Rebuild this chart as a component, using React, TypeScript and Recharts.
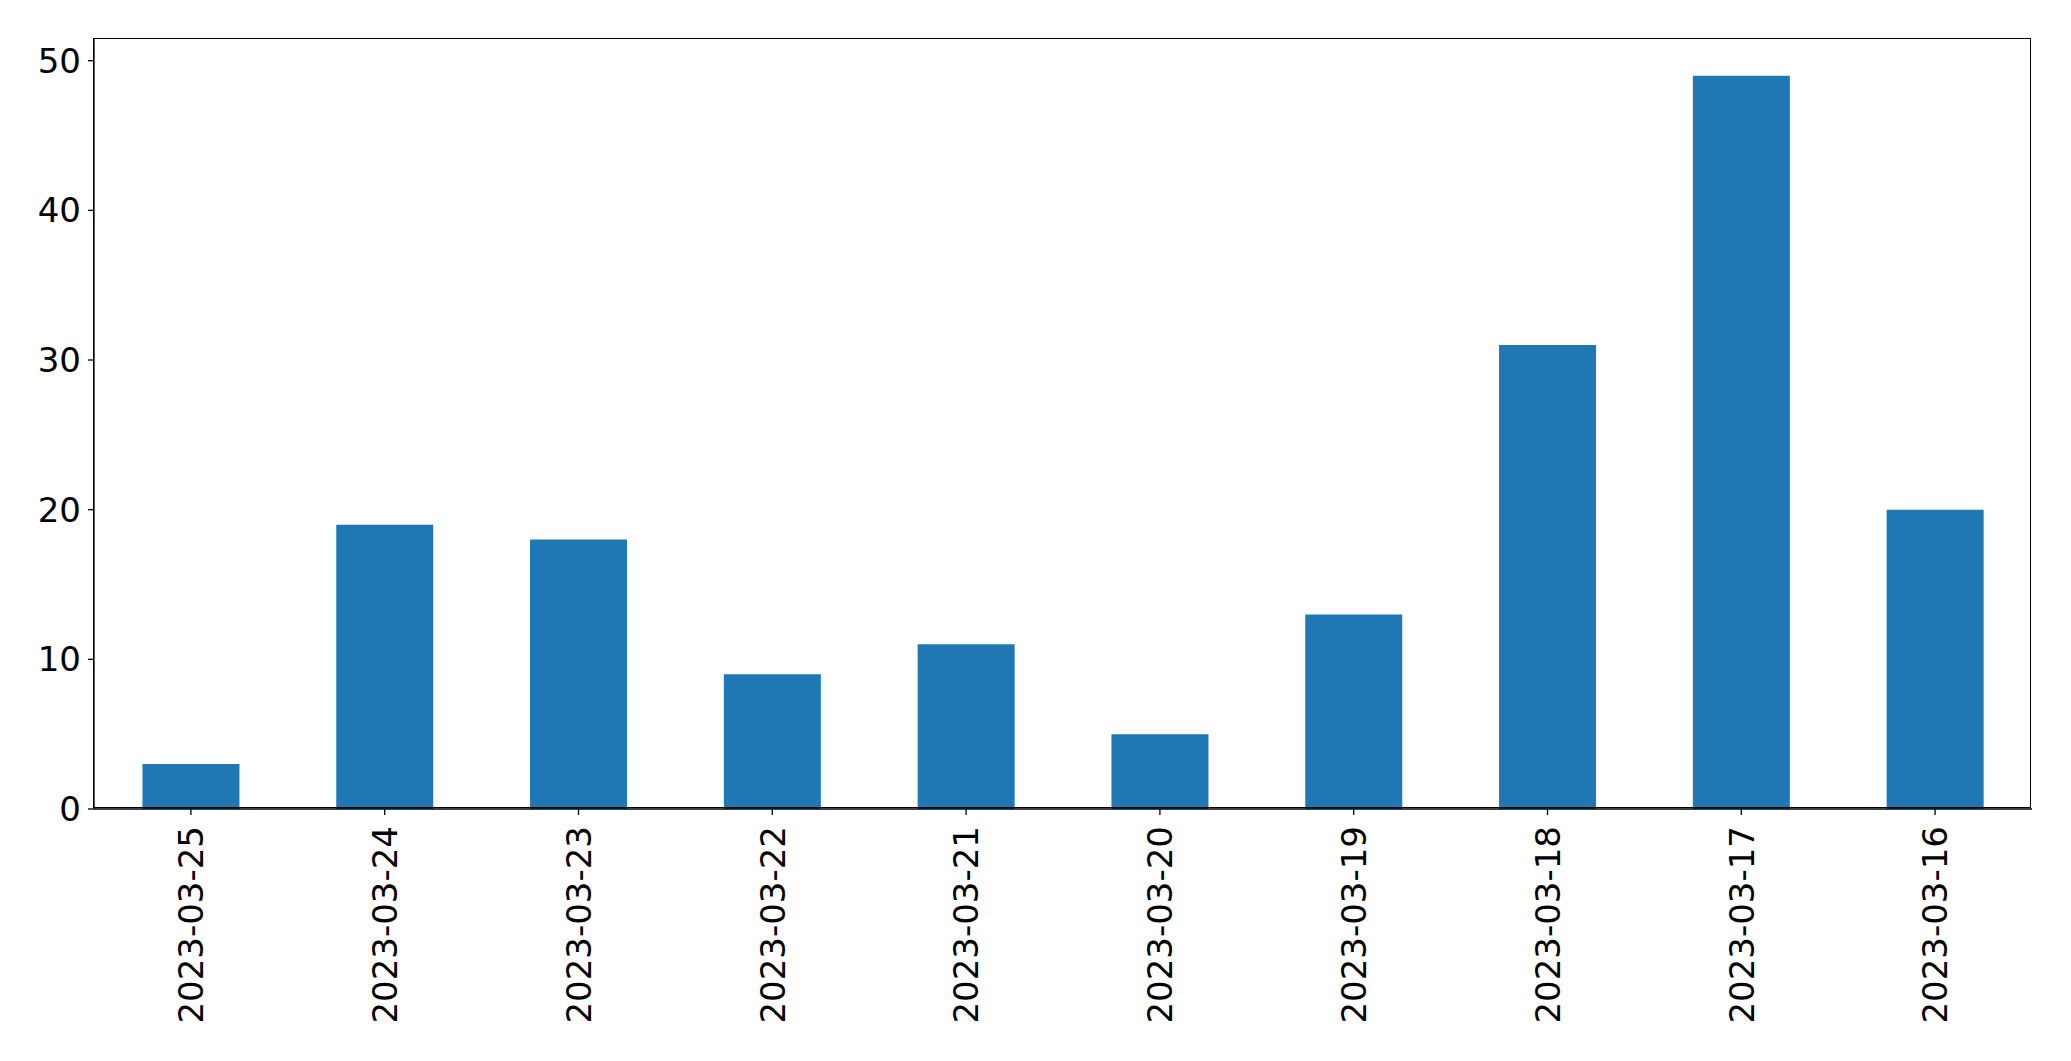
import React from "react";
import { BarChart, Bar, XAxis, YAxis } from "recharts";

const dates = [
  "2023-03-25",
  "2023-03-24",
  "2023-03-23",
  "2023-03-22",
  "2023-03-21",
  "2023-03-20",
  "2023-03-19",
  "2023-03-18",
  "2023-03-17",
  "2023-03-16",
];
const counts = [3, 19, 18, 9, 11, 5, 13, 31, 49, 20];
const yTicks = [0, 10, 20, 30, 40, 50];

const data = dates.map((d, i) => ({ date: d, count: counts[i] }));

const FONT = "'DejaVu Sans', sans-serif";
const FS = 34;

const XTick = (props: any) => {
  const { x, y, payload } = props;
  return (
    <text
      x={x}
      y={y + 9}
      transform={`rotate(-90, ${x}, ${y + 9})`}
      textAnchor="end"
      dy="0.36em"
      fontSize={FS}
      fontFamily={FONT}
      fill="#000"
    >
      {payload.value}
    </text>
  );
};

const W = 2071;
const H = 1061;
const M = { top: 39, right: 39, bottom: 0, left: 0 };
const Y_W = 94;
const X_H = 252;

export default function App() {
  return (
    <div style={{ position: "absolute", left: 0, top: 0, width: W, height: H, background: "#fff" }}>
      <BarChart width={W} height={H} data={data} margin={M} barCategoryGap="25%">
        <XAxis
          dataKey="date"
          height={X_H}
          interval={0}
          tick={<XTick />}
          tickSize={6}
          stroke="#000"
          tickLine={{ stroke: "#000", strokeWidth: 1.3 }}
          axisLine={{ stroke: "#000", strokeWidth: 1.3 }}
        />
        <YAxis
          width={Y_W}
          domain={[0, 51.45]}
          ticks={yTicks}
          allowDataOverflow
          tickSize={6}
          tickMargin={7}
          stroke="#000"
          tick={{ fontSize: FS, fontFamily: FONT, fill: "#000" }}
          tickLine={{ stroke: "#000", strokeWidth: 1.3 }}
          axisLine={{ stroke: "#000", strokeWidth: 1.3 }}
        />
        <Bar dataKey="count" fill="#1f77b4" isAnimationActive={false} />
      </BarChart>
      <div
        style={{
          position: "absolute",
          left: M.left + Y_W - 0.65,
          top: M.top - 0.65,
          width: W - M.left - M.right - Y_W,
          height: H - M.top - X_H,
          border: "1.3px solid #000",
          boxSizing: "border-box",
          pointerEvents: "none",
        }}
      />
    </div>
  );
}
